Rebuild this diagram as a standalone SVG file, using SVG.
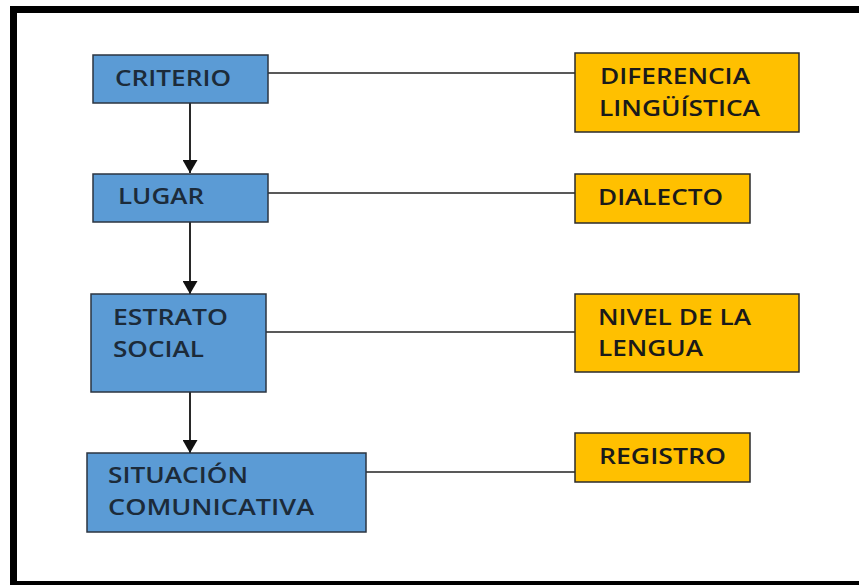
<svg xmlns="http://www.w3.org/2000/svg" width="859" height="585" viewBox="0 0 859 585">
<style>
.blue{fill:#5B9BD5;stroke:#2b3540;stroke-width:1.5}
.orange{fill:#FFC000;stroke:#2b2b2b;stroke-width:1.5}
.t{font-family:"Open Sans","Liberation Sans",sans-serif;font-size:21px;font-weight:600}
.tb{fill:#1c2b3a}
.to{fill:#1a1a1a}
.link{stroke:#222;stroke-width:1.3;fill:none}
.arrow{stroke:#111;stroke-width:1.8;fill:none}
</style>
<defs>
<marker id="ah" viewBox="0 0 13 15" refX="13" refY="7.5" markerWidth="13" markerHeight="15" markerUnits="userSpaceOnUse" orient="auto">
<path d="M0,0 L13,7.5 L0,15 Z" fill="#111"/>
</marker>
</defs>
<rect x="0" y="0" width="859" height="585" fill="#fff"/>
<path d="M13.5,581 L13.5,9.5 L859,9.5" fill="none" stroke="#000" stroke-width="7"/>
<rect x="10" y="581" width="849" height="4" fill="#000"/>
<g id="connectors">
<line class="link" x1="268" y1="73" x2="575" y2="73"/>
<line class="link" x1="268" y1="193" x2="575" y2="193"/>
<line class="link" x1="266" y1="332" x2="575" y2="332"/>
<line class="link" x1="366" y1="472" x2="575" y2="472"/>
<path class="arrow" d="M190,103 V173" marker-end="url(#ah)"/>
<path class="arrow" d="M190,222 V294" marker-end="url(#ah)"/>
<path class="arrow" d="M190,392 V453" marker-end="url(#ah)"/>
</g>
<g id="criterio">
<rect class="blue" x="93" y="55" width="175" height="48"/>
<text class="t tb" x="115" y="86" textLength="116" lengthAdjust="spacingAndGlyphs">CRITERIO</text>
</g>
<g id="lugar">
<rect class="blue" x="93" y="174" width="175" height="48"/>
<text class="t tb" x="118" y="204" textLength="86" lengthAdjust="spacingAndGlyphs">LUGAR</text>
</g>
<g id="estrato">
<rect class="blue" x="91" y="294" width="175" height="98"/>
<text class="t tb" x="113" y="325" textLength="115" lengthAdjust="spacingAndGlyphs">ESTRATO</text>
<text class="t tb" x="113" y="357" textLength="91" lengthAdjust="spacingAndGlyphs">SOCIAL</text>
</g>
<g id="situacion">
<rect class="blue" x="87" y="453" width="279" height="79"/>
<text class="t tb" x="108" y="483" textLength="140" lengthAdjust="spacingAndGlyphs">SITUACIÓN</text>
<text class="t tb" x="108" y="515" textLength="206" lengthAdjust="spacingAndGlyphs">COMUNICATIVA</text>
</g>
<g id="diferencia">
<rect class="orange" x="575" y="53" width="224" height="79"/>
<text class="t to" x="600" y="84" textLength="150" lengthAdjust="spacingAndGlyphs">DIFERENCIA</text>
<text class="t to" x="599" y="116" textLength="161" lengthAdjust="spacingAndGlyphs">LINGÜÍSTICA</text>
</g>
<g id="dialecto">
<rect class="orange" x="575" y="174" width="175" height="49"/>
<text class="t to" x="598" y="205" textLength="125" lengthAdjust="spacingAndGlyphs">DIALECTO</text>
</g>
<g id="nivel">
<rect class="orange" x="575" y="294" width="224" height="78"/>
<text class="t to" x="598" y="325" textLength="153" lengthAdjust="spacingAndGlyphs">NIVEL DE LA</text>
<text class="t to" x="598" y="356" textLength="105" lengthAdjust="spacingAndGlyphs">LENGUA</text>
</g>
<g id="registro">
<rect class="orange" x="575" y="433" width="175" height="49"/>
<text class="t to" x="599" y="464" textLength="127" lengthAdjust="spacingAndGlyphs">REGISTRO</text>
</g>
</svg>
